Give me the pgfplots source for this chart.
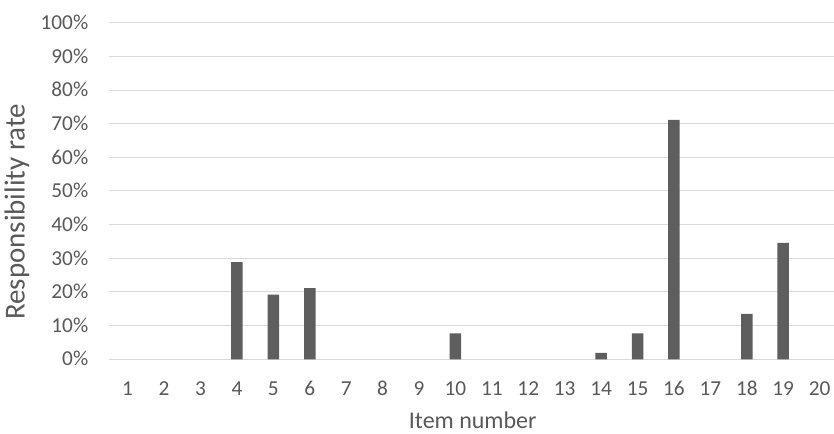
\documentclass[border=0pt]{standalone}
\usepackage{pgfplots}
\pgfplotsset{compat=1.18}
\usepackage{fontspec}
\setmainfont{Carlito}
\definecolor{txt}{HTML}{595959}
\definecolor{grid}{HTML}{D9D9D9}
\definecolor{bar}{HTML}{5E5E5E}
\begin{document}
\begin{tikzpicture}
\begin{axis}[
  scale only axis,
  at={(0,0)}, anchor=south west,
  width=724.5bp, height=336.8bp,
  xmin=0.5, xmax=20.38,
  ymin=0, ymax=100,
  axis line style={draw=none},
  major tick length=0pt,
  xtick={1,...,20},
  ytick={0,10,...,100},
  yticklabels={0\%,10\%,20\%,30\%,40\%,50\%,60\%,70\%,80\%,90\%,100\%},
  /pgf/number format/assume math mode=true,
  ymajorgrids,
  grid style={draw=grid, line width=1bp},
  tick label style={font=\fontsize{21.3bp}{25bp}\selectfont, text=txt},
  yticklabel style={inner sep=0pt, anchor=base east, xshift=-21bp, yshift=-6.7bp},
  xticklabel style={inner sep=0pt, anchor=base, yshift=-36.2bp},
  clip=false,
]
\addplot[ybar, bar width=11.5bp, fill=bar, draw=none] coordinates {
(4,28.85) (5,19.23) (6,21.15) (10,7.69)
(14,1.92) (15,7.69) (16,71.15) (18,13.46) (19,34.62)
};
\end{axis}
\node[text=txt, font=\fontsize{24bp}{28bp}\selectfont, anchor=base, inner sep=0pt] at (363.5bp,-69.5bp) {Item number};
\node[text=txt, font=\fontsize{29bp}{33bp}\selectfont, rotate=90, inner sep=0pt] at (-92.5bp,147.5bp) {Responsibility rate};
\useasboundingbox (-109.5bp,-74.5bp) rectangle (724.5bp,359.5bp);
\end{tikzpicture}
\end{document}
